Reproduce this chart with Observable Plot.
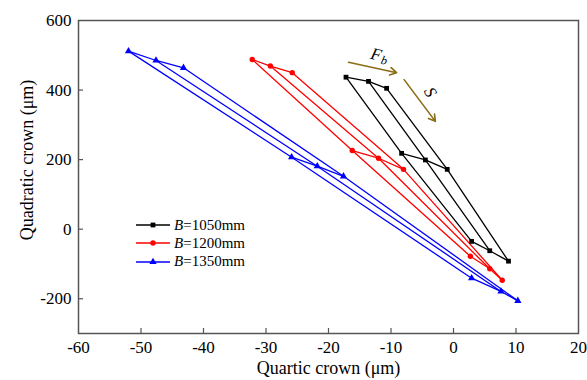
<!DOCTYPE html>
<html><head><meta charset="utf-8">
<script src="https://cdn.jsdelivr.net/npm/d3@7"></script>
<script src="https://cdn.jsdelivr.net/npm/@observablehq/plot@0.6"></script>
<style>
body{margin:0;background:#fff;}
#wrap{position:relative;width:587px;height:380px;font-family:"Liberation Serif","Times New Roman",serif;}
#legend{position:absolute;left:136px;top:216px;font-size:15px;color:#000;line-height:1;}
.row{display:flex;align-items:center;height:18.3px;white-space:nowrap;}
.row svg{display:block;margin-right:2px;}
</style></head><body><div id="wrap"><div id="legend"></div></div>
<script>
// Series (B = strip width), 9 points each: rows = S levels (top, middle, bottom), columns = Fb levels
const seriesNames = ["B=1050mm", "B=1200mm", "B=1350mm"];
const seriesColors = ["#000000", "#ff0000", "#0000ff"];
const seriesSymbols = ["square", "circle", "triangle"];
const quartic1050 = [-17.2, -13.6, -10.7, -8.3, -4.5, -1.0, 2.9, 5.8, 8.8];
const quadratic1050 = [437, 425, 405, 218, 199, 172, -35, -62, -92];
const quartic1200 = [-32.2, -29.3, -25.8, -16.2, -12.0, -8.0, 2.7, 5.8, 7.8];
const quadratic1200 = [488, 469, 450, 226, 204, 172, -78, -114, -147];
const quartic1350 = [-52.0, -47.6, -43.2, -25.9, -21.8, -17.6, 2.9, 7.6, 10.3];
const quadratic1350 = [512, 485, 464, 207, 181, 152, -141, -179, -206];
const xTicks = [-60, -50, -40, -30, -20, -10, 0, 10, 20];
const yTicks = [-200, 0, 200, 400, 600];
// Annotation arrows (Fb, S) in data units
const arrowX1 = [-16.8, -7.9];
const arrowY1 = [480, 430];
const arrowX2 = [-9.1, -2.9];
const arrowY2 = [450, 310];
const labelText = ["F", "b", "S"];
const labelX = [-12.4, -12.4, -3.7];
const labelY = [502, 502, 394];

const xs = [quartic1050, quartic1200, quartic1350];
const ys = [quadratic1050, quadratic1200, quadratic1350];
const table = [];
seriesNames.forEach((s, k) => {
  xs[k].forEach((x, i) => table.push({series: s, row: Math.floor(i / 3), col: i % 3, x, y: ys[k][i]}));
});
const arrows = arrowX1.map((x1, i) => ({x1, y1: arrowY1[i], x2: arrowX2[i], y2: arrowY2[i]}));
const labels = labelText.map((t, i) => ({t, x: labelX[i], y: labelY[i]}));
const ann = "#8b6d14";
const axisColor = "#555";

const chart = Plot.plot({
  width: 587, height: 380,
  marginLeft: 78, marginRight: 9, marginTop: 20, marginBottom: 47,
  style: {fontFamily: '"Liberation Serif", "Times New Roman", serif', fontSize: "17px", color: "#000", background: "#fff", overflow: "visible"},
  x: {domain: [-60, 20]},
  y: {domain: [-300, 600]},
  color: {domain: seriesNames, range: seriesColors},
  symbol: {domain: seriesNames, range: seriesSymbols},
  marks: [
    Plot.line(table, {x: "x", y: "y", z: d => d.series + "-r" + d.row, stroke: "series", strokeWidth: 1.3}),
    Plot.line(table, {x: "x", y: "y", z: d => d.series + "-c" + d.col, stroke: "series", strokeWidth: 1.3}),
    Plot.dot(table, {x: "x", y: "y", symbol: "series", fill: "series", r: 2.7}),
    Plot.arrow(arrows, {x1: "x1", y1: "y1", x2: "x2", y2: "y2", stroke: ann, strokeWidth: 1.6, headLength: 7}),
    Plot.text(labels.slice(0, 1), {x: "x", y: "y", text: "t", fontStyle: "italic", fontSize: 17, rotate: 14}),
    Plot.text(labels.slice(1, 2), {x: "x", y: "y", text: "t", fontStyle: "italic", fontSize: 12, rotate: 14, dx: 8, dy: 6}),
    Plot.text(labels.slice(2, 3), {x: "x", y: "y", text: "t", fontStyle: "italic", fontSize: 17, rotate: 62}),
    Plot.tickX(xTicks.slice(1, -1), {x: d => d, insetTop: 308, stroke: axisColor, strokeWidth: 1.2}),
    Plot.tickY(yTicks.slice(0, -1), {y: d => d, insetRight: 495, stroke: axisColor, strokeWidth: 1.2}),
    Plot.axisX(xTicks, {tickSize: 0, tickPadding: 7, label: null, tickFormat: d => String(d), fontSize: 17}),
    Plot.axisY(yTicks, {tickSize: 0, tickPadding: 7, label: null, tickFormat: d => String(d), fontSize: 17}),
    Plot.text(["Quartic crown (μm)"], {text: d => d, frameAnchor: "bottom", textAnchor: "middle", lineAnchor: "middle", dy: 35, fontSize: 18}),
    Plot.text(["Quadratic crown (μm)"], {text: d => d, frameAnchor: "left", textAnchor: "middle", lineAnchor: "middle", dx: -51, dy: -17, rotate: -90, fontSize: 18}),
    Plot.frame({stroke: axisColor, strokeWidth: 1.5})
  ]
});
const wrap = document.getElementById("wrap");
wrap.insertBefore(chart, wrap.firstChild);

// Legend
const legend = document.getElementById("legend");
seriesNames.forEach((s, k) => {
  const row = document.createElement("div");
  row.className = "row";
  const sym = {square: d3.symbolSquare, circle: d3.symbolCircle, triangle: d3.symbolTriangle}[seriesSymbols[k]];
  const path = d3.symbol(sym, Math.PI * 2.7 * 2.7)();
  row.innerHTML = `<svg width="36" height="12"><line x1="0" y1="6" x2="34" y2="6" stroke="${seriesColors[k]}" stroke-width="1.3"/><path d="${path}" transform="translate(17,6)" fill="${seriesColors[k]}"/></svg><span><i>B</i>${s.slice(1)}</span>`;
  legend.appendChild(row);
});
</script></body></html>
